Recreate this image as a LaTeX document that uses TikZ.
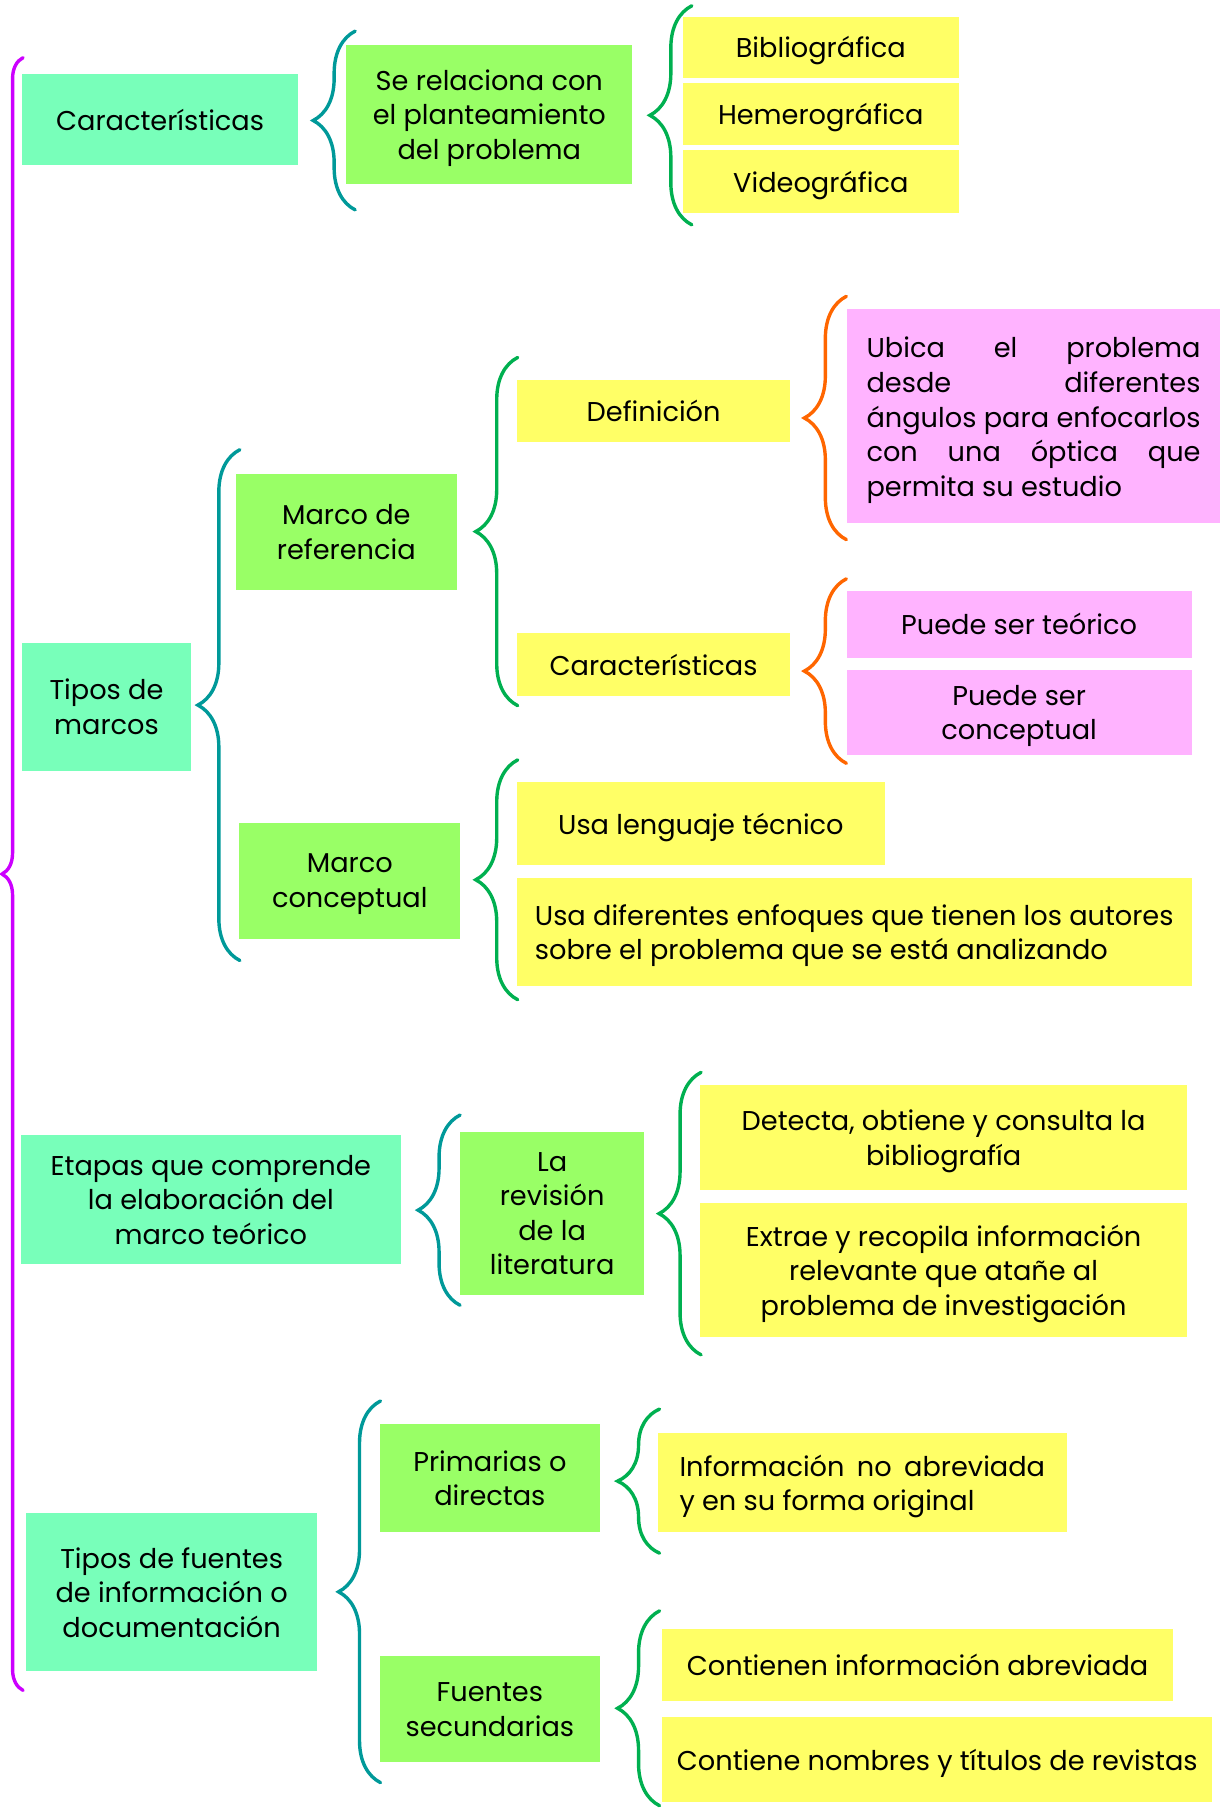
\documentclass[tikz,border=0pt]{standalone}
\usepackage{fontspec}
\setmainfont{Poppins}
\usetikzlibrary{decorations.pathreplacing,positioning}
\definecolor{mint}{RGB}{120,255,186}
\definecolor{lime}{RGB}{153,255,102}
\definecolor{lemon}{RGB}{255,255,102}
\definecolor{rose}{RGB}{255,179,255}
\definecolor{brmag}{RGB}{204,0,255}
\definecolor{brteal}{RGB}{0,153,153}
\definecolor{brgreen}{RGB}{0,176,80}
\definecolor{brorange}{RGB}{255,102,0}

\begin{document}
\begin{tikzpicture}[
    x=0.5766pt, y=-0.5766pt,
    font=\fontsize{13.6pt}{17.3pt}\selectfont,
    box/.style 2 args={anchor=north west, inner sep=0pt, align=center, text depth=0pt,
                       minimum width=#1*0.5766pt, minimum height=#2*0.5766pt},
    parr/.style={text depth={}, text width=#1, align=justify},
    tema/.style={fill=mint},
    rama/.style={fill=lime},
    hoja/.style={fill=lemon},
    nota/.style={fill=rose},
    brc/.style 2 args={draw=#1, line width=1.7pt, line cap=round, decorate,
                       decoration={brace, amplitude=#2}}
]
\useasboundingbox (0,0) rectangle (1058,1568);

% primer bloque
\node[box={239}{79}, tema] (carac) at (19,64) {Características};
\node[box={248}{120}, rama] (relac) at (300,39)
    {Se relaciona con\\el planteamiento\\del problema};
\node[box={239}{53}, hoja] (biblio) at (592,14) {Bibliográfica};
\node[box={239}{53}, hoja] (hemero) at (592,72) {Hemerográfica};
\node[box={239}{54}, hoja] (video) at (592,130) {Videográfica};

% tipos de marcos
\node[box={146}{111}, tema] (tmarcos) at (19,557) {Tipos de\\marcos};
\node[box={192}{100}, rama] (mref) at (204,411) {Marco de\\referencia};
\node[box={237}{54}, hoja] (defin) at (448,329) {Definición};
\node[box={324}{185}, nota, parr=167pt] (ubica) at (734,268)
    {\rule{0pt}{14.5pt}Ubica~el~problema\linebreak desde~diferentes\linebreak
     ángulos~para~enfocarlos\linebreak con~una~óptica~que\linebreak
     permita su estudio};
\node[box={237}{54}, hoja] (caracb) at (448,549) {Características};
\node[box={299}{58}, nota] (teorico) at (734,512) {Puede ser teórico};
\node[box={299}{73}, nota] (concep) at (734,581) {Puede ser\\conceptual};
\node[box={192}{101}, rama] (mconc) at (207,713) {Marco\\conceptual};
\node[box={319}{72}, hoja] (lengua) at (448,678) {Usa lenguaje técnico};
\node[box={585}{94}, hoja, align=left] (enfoq) at (448,761)
    {Usa diferentes enfoques que tienen los autores\\
     sobre el problema que se está analizando};

% etapas
\node[box={329}{112}, tema] (etapas) at (18,984)
    {Etapas que comprende\\la elaboración del\\marco teórico};
\node[box={159}{142}, rama] (revis) at (399,981) {La\\revisión\\de la\\literatura};
\node[box={422}{91}, hoja] (detecta) at (607,941)
    {Detecta, obtiene y consulta la\\bibliografía};
\node[box={422}{116}, hoja] (extrae) at (607,1043)
    {Extrae y recopila información\\relevante que atañe al\\problema de investigación};

% fuentes
\node[box={253}{137}, tema] (tfuent) at (22,1312)
    {Tipos de fuentes\\de información o\\documentación};
\node[box={191}{93}, rama] (prim) at (329,1235) {Primarias o\\directas};
\node[box={355}{86}, hoja, parr=182.8pt] (infno) at (570,1242)
    {\rule{0pt}{15pt}Información~no~abreviada\linebreak y en su forma original};
\node[box={191}{92}, rama] (fsec) at (329,1436) {Fuentes\\secundarias};
\node[box={443}{63}, hoja] (abrev) at (574,1412) {Contienen información abreviada};
\node[box={477}{73}, hoja] (revist) at (574,1489) {Contiene nombres y títulos de revistas};

% extremos de las llaves
\coordinate (mgT) at (20,50);    \coordinate (mgB) at (20,1466);
\coordinate (t1T) at (308,27);   \coordinate (t1B) at (308,182);
\coordinate (g1T) at (600,5);    \coordinate (g1B) at (600,195);
\coordinate (t2T) at (208,390);  \coordinate (t2B) at (208,833);
\coordinate (g2T) at (449,310);  \coordinate (g2B) at (449,612);
\coordinate (o1T) at (734,257);  \coordinate (o1B) at (734,468);
\coordinate (o2T) at (734,502);  \coordinate (o2B) at (734,662);
\coordinate (g3T) at (449,659);  \coordinate (g3B) at (449,867);
\coordinate (t3T) at (399,967);  \coordinate (t3B) at (399,1132);
\coordinate (g4T) at (608,930);  \coordinate (g4B) at (608,1175);
\coordinate (t4T) at (330,1215); \coordinate (t4B) at (330,1546);
\coordinate (g5T) at (572,1222); \coordinate (g5B) at (572,1347);
\coordinate (g6T) at (572,1397); \coordinate (g6B) at (572,1566);

\draw[brc={brmag}{10.5pt}] (mgB) -- (mgT);
\draw[brc={brteal}{21pt}] (t1B) -- (t1T);
\draw[brc={brgreen}{21pt}] (g1B) -- (g1T);
\draw[brc={brteal}{21pt}] (t2B) -- (t2T);
\draw[brc={brgreen}{21pt}] (g2B) -- (g2T);
\draw[brc={brorange}{21pt}] (o1B) -- (o1T);
\draw[brc={brorange}{21pt}] (o2B) -- (o2T);
\draw[brc={brgreen}{21pt}] (g3B) -- (g3T);
\draw[brc={brteal}{21pt}] (t3B) -- (t3T);
\draw[brc={brgreen}{21pt}] (g4B) -- (g4T);
\draw[brc={brteal}{21pt}] (t4B) -- (t4T);
\draw[brc={brgreen}{21pt}] (g5B) -- (g5T);
\draw[brc={brgreen}{21pt}] (g6B) -- (g6T);
\end{tikzpicture}
\end{document}
